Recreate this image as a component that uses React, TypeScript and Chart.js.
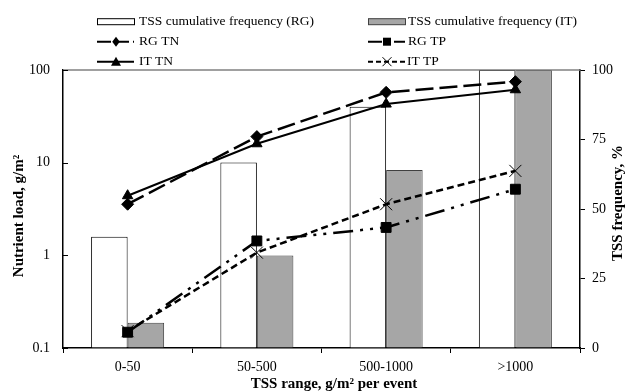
import React, { useEffect, useRef } from "react";
import { Chart, registerables } from "chart.js";

Chart.register(...registerables);

const categories = ["0-50", "50-500", "500-1000", ">1000"];
const rgFreq = [40, 66.7, 86.8, 100];
const itFreq = [9.1, 33.3, 64, 100];
const rgTN = [3.56, 19.1, 57.4, 74.8];
const itTN = [4.4, 16.0, 42.9, 61.2];
const rgTP = [0.148, 1.43, 2.0, 5.17];
const itTP = [0.152, 1.07, 3.56, 8.15];
const leftTicks = [0.1, 1, 10, 100];
const rightTicks = [0, 25, 50, 75, 100];

const FONT = "'Liberation Serif', 'Times New Roman', serif";
const GRAY = "#a6a6a6";

const DASH_RGTN = [18, 6];
const DASH_RGTP = [20, 7, 3, 7, 3, 7];
const DASH_ITTP = [7, 4];

function marker(ctx: CanvasRenderingContext2D, style: string, x: number, y: number, r: number) {
  ctx.save();
  ctx.setLineDash([]);
  ctx.fillStyle = "#000";
  ctx.strokeStyle = "#000";
  ctx.lineWidth = 1;
  ctx.beginPath();
  if (style === "diamond") {
    ctx.moveTo(x, y - r);
    ctx.lineTo(x + r * 0.75, y);
    ctx.lineTo(x, y + r);
    ctx.lineTo(x - r * 0.75, y);
    ctx.closePath();
    ctx.fill();
  } else if (style === "square") {
    ctx.rect(x - r, y - r, 2 * r, 2 * r);
    ctx.fill();
  } else if (style === "triangle") {
    ctx.moveTo(x, y - r);
    ctx.lineTo(x + r, y + r * 0.8);
    ctx.lineTo(x - r, y + r * 0.8);
    ctx.closePath();
    ctx.fill();
  } else if (style === "cross") {
    ctx.moveTo(x - r, y - r);
    ctx.lineTo(x + r, y + r);
    ctx.moveTo(x + r, y - r);
    ctx.lineTo(x - r, y + r);
    ctx.stroke();
  }
  ctx.restore();
}

const overlay = {
  id: "overlay",
  afterDraw(chart: any) {
    const ctx: CanvasRenderingContext2D = chart.ctx;
    const a = chart.chartArea;
    const ys = chart.scales.y;
    ctx.save();
    // top frame line
    ctx.strokeStyle = "#808080";
    ctx.lineWidth = 1.5;
    ctx.beginPath();
    ctx.moveTo(a.left, a.top);
    ctx.lineTo(a.right, a.top);
    ctx.stroke();
    // inward ticks on the left axis
    ctx.strokeStyle = "#000";
    ctx.lineWidth = 1;
    ctx.beginPath();
    for (const v of leftTicks) {
      const py = Math.round(ys.getPixelForValue(v)) + 0.5;
      ctx.moveTo(a.left, py);
      ctx.lineTo(a.left + 5, py);
    }
    ctx.stroke();

    // axis titles
    ctx.fillStyle = "#000";
    ctx.font = `bold 15px ${FONT}`;
    ctx.textAlign = "center";
    ctx.textBaseline = "middle";
    ctx.fillText("TSS range, g/m² per event", 334, 384);
    ctx.save();
    ctx.translate(19, 216);
    ctx.rotate(-Math.PI / 2);
    ctx.fillText("Nutrient load, g/m²", 0, 0);
    ctx.restore();
    ctx.save();
    ctx.translate(618, 203);
    ctx.rotate(-Math.PI / 2);
    ctx.fillText("TSS frequency, %", 0, 0);
    ctx.restore();

    // legend
    ctx.font = `13.5px ${FONT}`;
    ctx.textAlign = "left";
    const c1 = 97, c2 = 368, w = 37;
    const r1 = 21.7, r2 = 41.7, r3 = 61.7;
    // row 1 boxes
    ctx.lineWidth = 1;
    ctx.fillStyle = "#fff";
    ctx.strokeStyle = "#000";
    ctx.fillRect(c1, r1 - 3, w, 6);
    ctx.strokeRect(c1 + 0.5, r1 - 3, w, 6);
    ctx.fillStyle = GRAY;
    ctx.strokeStyle = "#404040";
    ctx.fillRect(c2, r1 - 3, w, 6);
    ctx.strokeRect(c2 + 0.5, r1 - 3, w, 6);
    ctx.fillStyle = "#000";
    ctx.fillText("TSS cumulative frequency (RG)", 139, r1);
    ctx.fillText("TSS cumulative frequency (IT)", 408, r1);
    // line samples
    const sample = (x: number, y: number, dash: number[], lw: number, style: string, r: number) => {
      ctx.save();
      ctx.strokeStyle = "#000";
      ctx.lineWidth = lw;
      ctx.setLineDash(dash);
      ctx.beginPath();
      ctx.moveTo(x, y);
      ctx.lineTo(x + w, y);
      ctx.stroke();
      ctx.restore();
      marker(ctx, style, x + 19, y, r);
    };
    sample(c1, r2, [14, 4], 2, "diamond", 5);
    sample(c2, r2, [14, 5, 2, 5], 2, "square", 4);
    sample(c1, r3, [], 2, "triangle", 5);
    sample(c2, r3, [5, 3], 2, "cross", 4.5);
    ctx.fillStyle = "#000";
    ctx.fillText("RG TN", 139, r2);
    ctx.fillText("RG TP", 408, r2);
    ctx.fillText("IT TN", 139, r3);
    ctx.fillText("IT TP", 407, r3);
    ctx.restore();
  },
};

export default function App() {
  const ref = useRef<HTMLCanvasElement | null>(null);
  useEffect(() => {
    if (!ref.current) return;
    const lineBase = {
      type: "line" as const,
      yAxisID: "y",
      borderColor: "#000",
      backgroundColor: "#000",
      pointBackgroundColor: "#000",
      pointBorderColor: "#000",
      pointBorderWidth: 1,
      fill: false,
      tension: 0,
      order: 1,
    };
    const chart = new Chart(ref.current, {
      type: "bar",
      data: {
        labels: categories,
        datasets: [
          {
            type: "bar",
            label: "TSS cumulative frequency (RG)",
            data: rgFreq,
            yAxisID: "y1",
            backgroundColor: "#ffffff",
            borderColor: "#000",
            borderWidth: 1,
            categoryPercentage: 0.565,
            barPercentage: 1,
            order: 2,
          },
          {
            type: "bar",
            label: "TSS cumulative frequency (IT)",
            data: itFreq,
            yAxisID: "y1",
            backgroundColor: GRAY,
            borderColor: "#404040",
            borderWidth: 1,
            categoryPercentage: 0.565,
            barPercentage: 1,
            order: 2,
          },
          {
            ...lineBase,
            label: "RG TN",
            data: rgTN,
            borderWidth: 2.5,
            borderDash: DASH_RGTN,
            pointStyle: "rectRot",
            pointRadius: 6,
          },
          {
            ...lineBase,
            label: "RG TP",
            data: rgTP,
            borderWidth: 2.5,
            borderDash: DASH_RGTP,
            pointStyle: "rect",
            pointRadius: 7,
          },
          {
            ...lineBase,
            label: "IT TN",
            data: itTN,
            borderWidth: 2,
            pointStyle: "triangle",
            pointRadius: 6,
          },
          {
            ...lineBase,
            label: "IT TP",
            data: itTP,
            borderWidth: 2.5,
            borderDash: DASH_ITTP,
            pointStyle: "crossRot",
            pointRadius: 8.5,
            pointBorderWidth: 1,
          },
        ] as any,
      },
      options: {
        responsive: false,
        animation: false,
        layout: { padding: { top: 70, left: 0, right: 0, bottom: 0 } },
        plugins: {
          legend: { display: false },
          tooltip: { enabled: false },
        },
        scales: {
          x: {
            type: "category",
            grid: {
              display: true,
              drawOnChartArea: false,
              drawTicks: true,
              tickLength: 5,
              color: "#000",
              offset: true,
            },
            border: { color: "#000", width: 1.5 },
            ticks: {
              color: "#000",
              font: { family: FONT, size: 14 },
              padding: 6,
              maxRotation: 0,
            },
            afterFit: (s: any) => {
              s.height = 44;
            },
          },
          y: {
            type: "logarithmic",
            position: "left",
            min: 0.1,
            max: 100,
            grid: { drawOnChartArea: false, drawTicks: false },
            border: { color: "#000", width: 1.5 },
            afterBuildTicks: (s: any) => {
              s.ticks = leftTicks.map((v) => ({ value: v }));
            },
            ticks: {
              color: "#000",
              font: { family: FONT, size: 14 },
              padding: 13,
              callback: (v: any) => String(v),
            },
            afterFit: (s: any) => {
              s.width = 63;
            },
          },
          y1: {
            type: "linear",
            position: "right",
            min: 0,
            max: 100,
            grid: { drawOnChartArea: false, tickLength: 5, color: "#000" },
            border: { color: "#000", width: 1.5 },
            afterBuildTicks: (s: any) => {
              s.ticks = rightTicks.map((v) => ({ value: v }));
            },
            ticks: {
              color: "#000",
              font: { family: FONT, size: 14 },
              padding: 7,
            },
            afterFit: (s: any) => {
              s.width = 48;
            },
          },
        },
      } as any,
      plugins: [overlay],
    });
    return () => chart.destroy();
  }, []);
  return (
    <div style={{ position: "absolute", left: 0, top: 0, width: 628, height: 392, background: "#fff" }}>
      <canvas ref={ref} width={628} height={392} />
    </div>
  );
}
